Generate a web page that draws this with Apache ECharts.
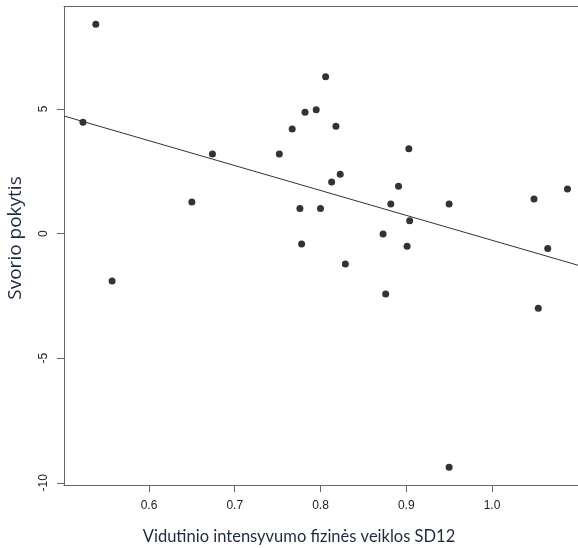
<!DOCTYPE html>
<html>
<head>
<meta charset="utf-8">
<title>Svorio pokytis</title>
<script src="https://cdn.jsdelivr.net/npm/echarts@6/dist/echarts.min.js"></script>
<style>
  html, body { margin: 0; padding: 0; background: #ffffff; }
  #chart { width: 578px; height: 548px; }
</style>
</head>
<body>
<div id="chart"></div>
<script>
// Moderate-intensity physical activity (SD12) vs. weight change
const activitySD12 = [
  0.538, 0.523, 0.557, 0.650, 0.674, 0.806, 0.782, 0.795, 0.767, 0.818,
  0.752, 0.903, 0.823, 0.813, 0.891, 0.882, 0.950, 0.776, 0.800, 0.904,
  0.873, 0.901, 0.778, 0.829, 0.876, 1.049, 1.088, 1.065, 1.054, 0.950
];
const weightChange = [
  8.40, 4.47, -1.90, 1.27, 3.19, 6.29, 4.87, 4.97, 4.19, 4.30,
  3.19, 3.40, 2.38, 2.07, 1.90, 1.19, 1.19, 1.00, 1.00, 0.51,
  -0.02, -0.51, -0.42, -1.22, -2.43, 1.39, 1.79, -0.60, -3.00, -9.38
];

// Axis ticks
const xTicks = [0.6, 0.7, 0.8, 0.9, 1.0];
const yTicks = [-10, -5, 0, 5];

// Axis limits (data range padded by 4%)
const xMin = 0.5009, xMax = 1.1003;
const yMin = -10.09, yMax = 9.11;

// Least-squares fit line: y = fitIntercept + fitSlope * x
const fitIntercept = 9.72;
const fitSlope = -9.99;

const points = activitySD12.map((x, i) => [x, weightChange[i]]);
const fitLine = [
  [xMin, fitIntercept + fitSlope * xMin],
  [xMax, fitIntercept + fitSlope * xMax]
];

const axisColor = '#666666';
const labelFont = { fontFamily: 'Liberation Sans, Arial, sans-serif', fontSize: 12, color: '#222222' };
const titleColor = '#1e2a3e';

const chart = echarts.init(document.getElementById('chart'), null, { renderer: 'canvas' });

chart.setOption({
  animation: false,
  backgroundColor: '#ffffff',
  grid: { left: 64, right: 0, top: 6.5, bottom: 63, containLabel: false },
  xAxis: [
    {
      type: 'value',
      position: 'bottom',
      min: xMin,
      max: xMax,
      axisLine: { show: true, onZero: false, lineStyle: { color: axisColor, width: 1 } },
      axisTick: {
        show: true, inside: false, length: 7,
        customValues: xTicks,
        lineStyle: { color: axisColor, width: 1 }
      },
      axisLabel: {
        show: true, margin: 15,
        customValues: xTicks,
        formatter: v => Number(v).toFixed(1),
        ...labelFont
      },
      splitLine: { show: false }
    },
    {
      type: 'value',
      position: 'top',
      min: xMin,
      max: xMax,
      axisLine: { show: true, onZero: false, lineStyle: { color: axisColor, width: 1 } },
      axisTick: { show: false },
      axisLabel: { show: false },
      splitLine: { show: false }
    }
  ],
  yAxis: {
    type: 'value',
    position: 'left',
    min: yMin,
    max: yMax,
    axisLine: { show: true, onZero: false, lineStyle: { color: axisColor, width: 1 } },
    axisTick: {
      show: true, inside: false, length: 7,
      customValues: yTicks,
      lineStyle: { color: axisColor, width: 1 }
    },
    axisLabel: {
      show: true, margin: 14, rotate: 90,
      customValues: yTicks,
      formatter: v => String(v),
      ...labelFont
    },
    splitLine: { show: false }
  },
  graphic: [
    {
      type: 'text',
      x: 299, y: 537,
      style: {
        text: 'Vidutinio intensyvumo fizinės veiklos SD12',
        fill: titleColor,
        font: '16.5px Lato, sans-serif',
        textAlign: 'center',
        textVerticalAlign: 'middle'
      },
      silent: true
    },
    {
      type: 'text',
      x: 16, y: 238,
      rotation: Math.PI / 2,
      style: {
        text: 'Svorio pokytis',
        fill: titleColor,
        font: '19px "Open Sans", sans-serif',
        textAlign: 'center',
        textVerticalAlign: 'middle'
      },
      silent: true
    }
  ],
  series: [
    {
      type: 'scatter',
      xAxisIndex: 0,
      data: points,
      symbol: 'circle',
      symbolSize: 7,
      itemStyle: { color: '#000000' },
      z: 2
    },
    {
      type: 'line',
      xAxisIndex: 0,
      data: fitLine,
      showSymbol: false,
      symbol: 'none',
      clip: true,
      lineStyle: { color: '#333333', width: 1 },
      z: 3
    }
  ]
});
</script>
</body>
</html>
